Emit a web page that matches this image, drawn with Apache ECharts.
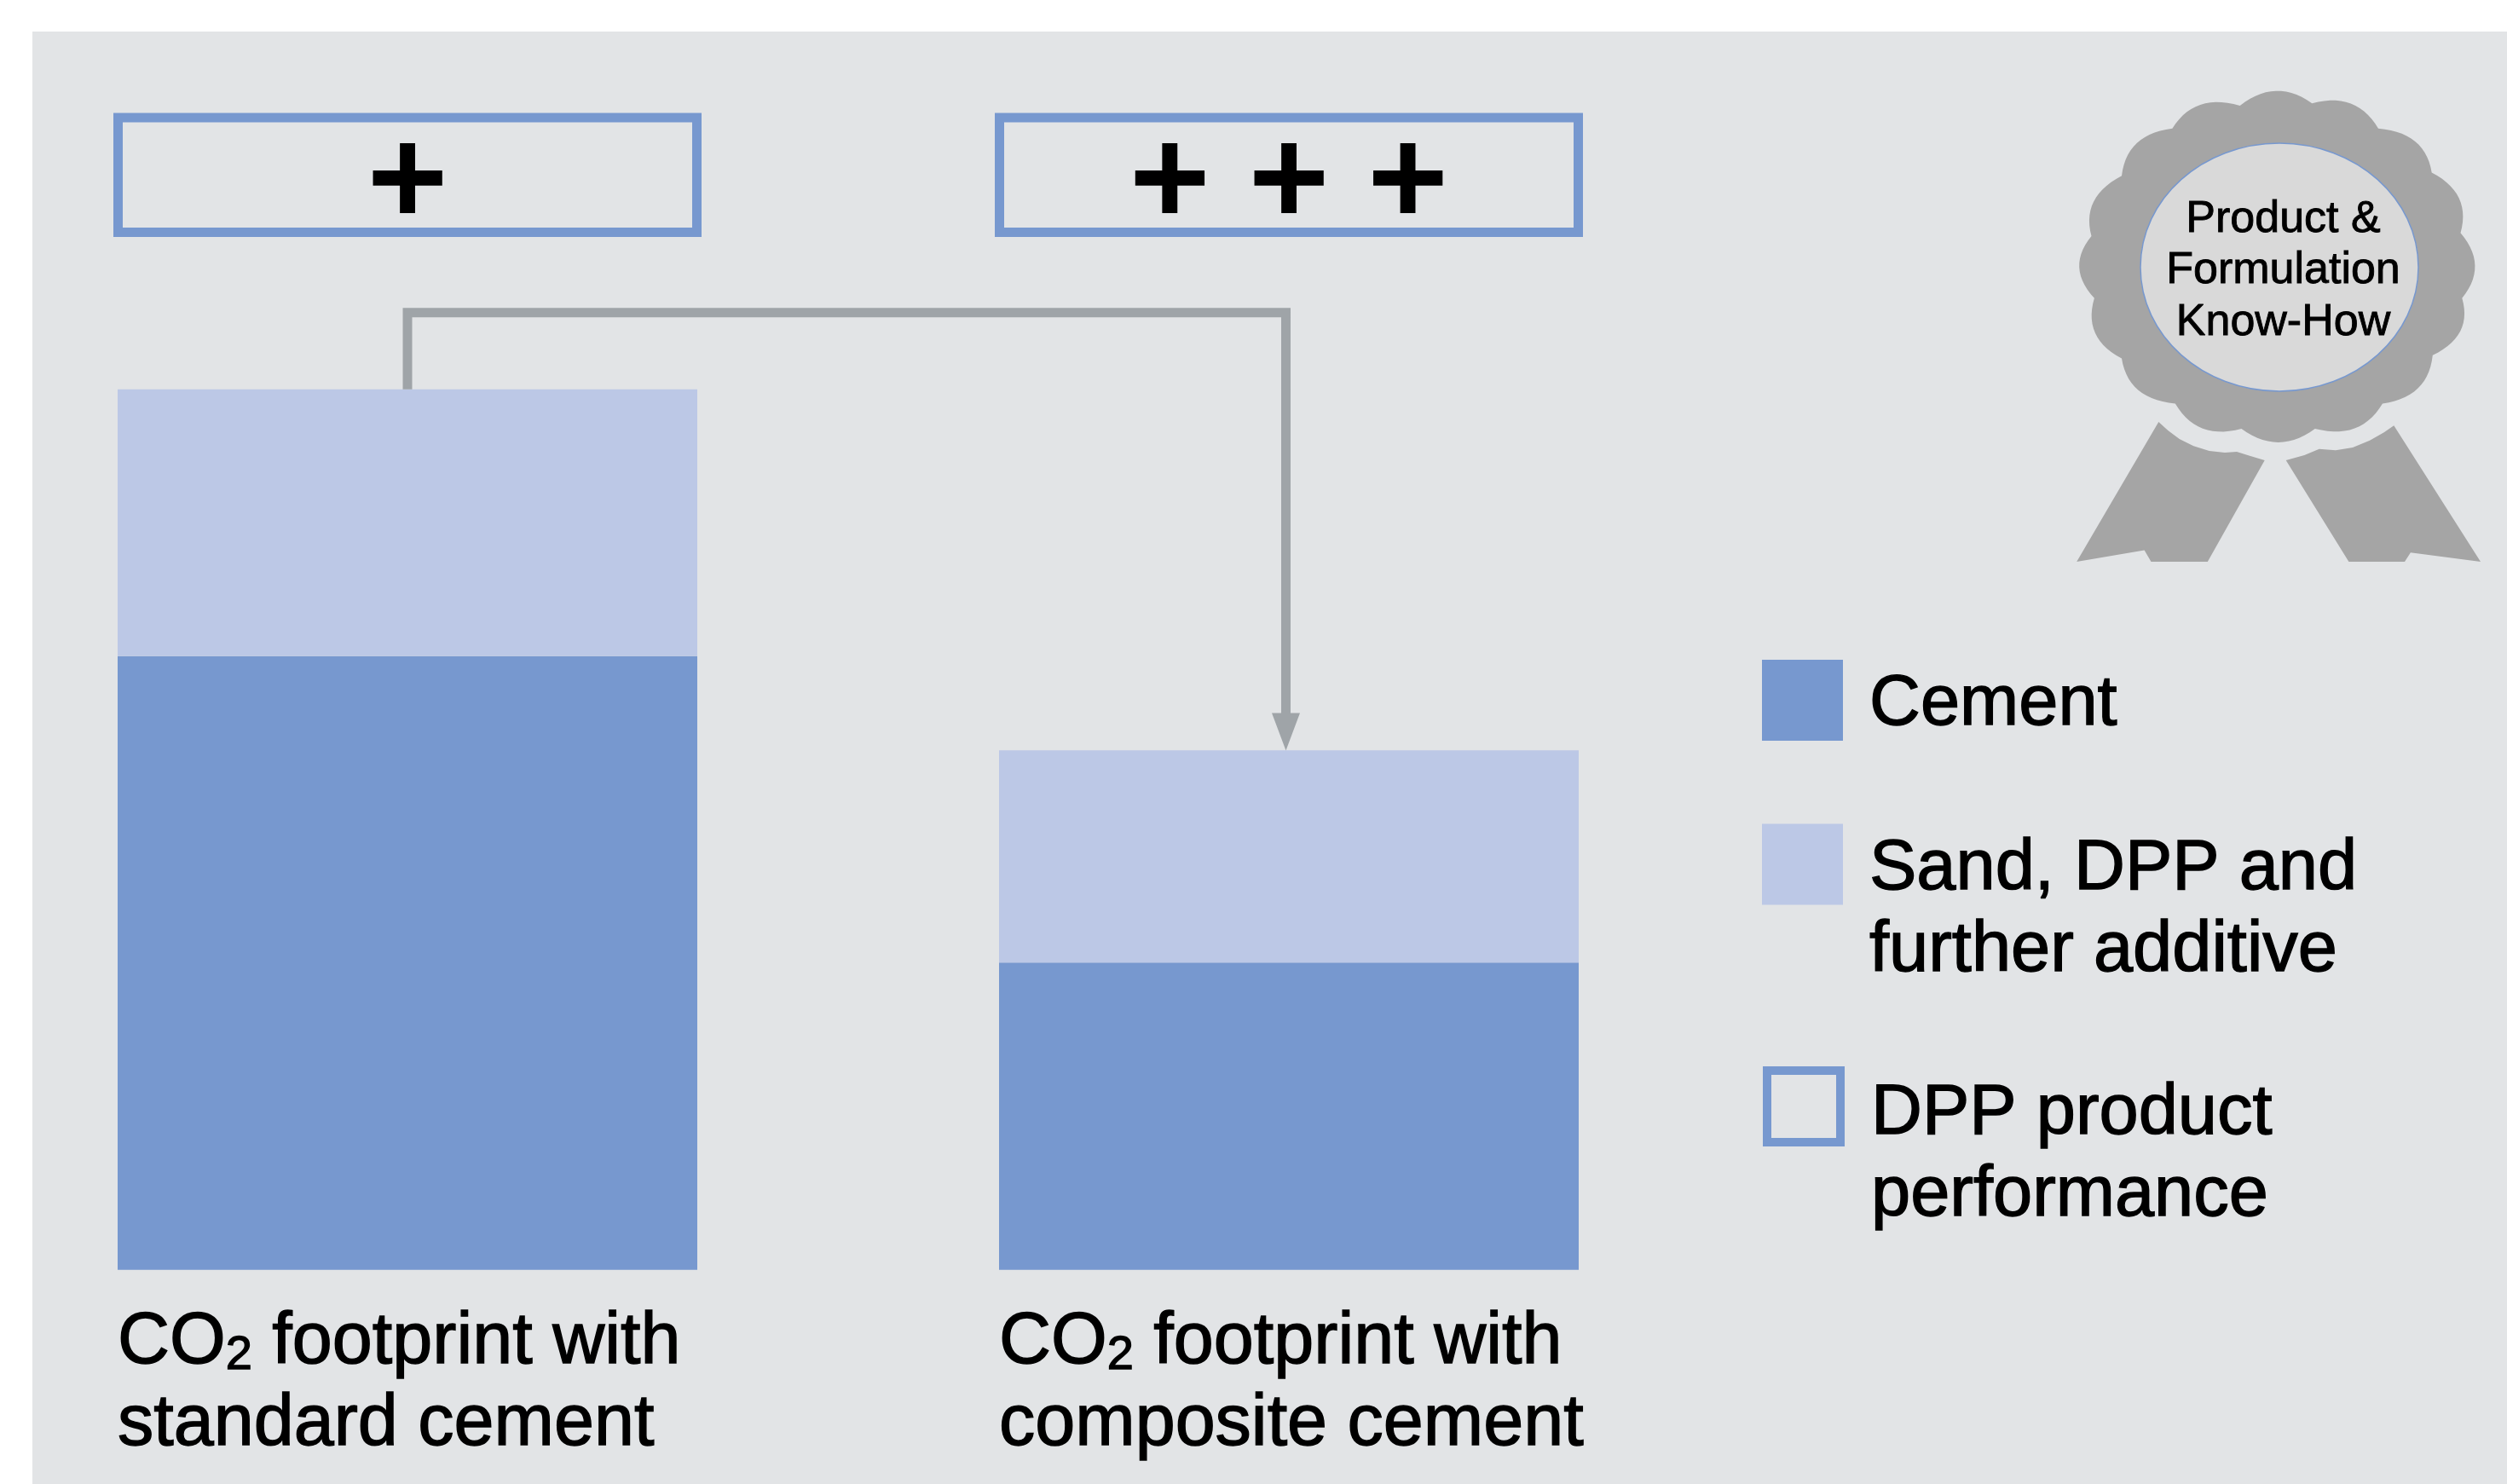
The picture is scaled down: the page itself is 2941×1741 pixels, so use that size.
<!DOCTYPE html>
<html><head><meta charset="utf-8">
<style>html,body{margin:0;padding:0;background:#fff}#c{width:2941px;height:1741px}</style>
<script src="https://cdn.jsdelivr.net/npm/echarts@6/dist/echarts.min.js"></script>
</head><body><div id="c"></div>
<script>
const categories = ['CO2 footprint with\nstandard cement', 'CO2 footprint with\ncomposite cement'];
const cementValues = [69.7, 34.9];
const additiveValues = [30.3, 24.1];
const performanceSlots = [1, 1];
const performanceMarks = ['+', '+ + +'];
const seriesNames = ['Cement', 'Sand, DPP and further additive', 'DPP product performance'];
const legendLabels = ['Cement', 'Sand, DPP and\nfurther additive', 'DPP product\nperformance'];
const connectorPath = [[0, 100], [0, 108.7], [99.66, 108.7], [99.66, 61.1]];
const badgeLines = 'Product &\nFormulation\nKnow-How';

const DARK = '#7798CF', LIGHT = '#BCC8E6', PANEL = '#E2E4E6', GREY = '#9FA4A8', BADGE = '#A5A5A5';
const FONT = '"Liberation Sans", Arial, sans-serif';
const INK = { textBorderColor: '#000', textBorderWidth: 1.4 };

// rosette outline
const valleys = [[2627.7,124],[2712.3,121.3],[2790,150.8],[2852.7,202.5],[2886.5,273.3],[2888.3,349.8],[2853.8,416.8],[2795,473.4],[2715.7,502.9],[2629.5,502.9],[2551.8,473.4],[2489,420.6],[2456.9,349.8],[2453.5,277.1],[2489,206.3],[2548.4,150.8]];
const hub = [2671, 312];
const rosette = [];
valleys.forEach((p, i) => {
  const q = valleys[(i + 1) % valleys.length];
  const mx = (p[0] + q[0]) / 2, my = (p[1] + q[1]) / 2;
  const dx = mx - hub[0], dy = my - hub[1], len = Math.hypot(dx, dy);
  const c = [mx + dx / len * 32, my + dy / len * 32];
  for (let t = 0; t < 1; t += 1 / 14) {
    const u = 1 - t;
    rosette.push([u*u*p[0] + 2*u*t*c[0] + t*t*q[0], u*u*p[1] + 2*u*t*c[1] + t*t*q[1]]);
  }
});
const ribbonLeft = [[2436.2,659],[2515.6,645.6],[2523.5,659],[2589.8,659],[2656.7,540],[2640,535],[2624,530],[2610,531],[2591.7,529],[2573.3,523.3],[2556.7,515],[2543.3,505],[2532.3,495]];
const ribbonRight = [[2681.7,540],[2703.3,534],[2720.7,526.7],[2740,528.3],[2760,525],[2780,516.7],[2796.7,507.3],[2808.3,499.3],[2910,659],[2827.9,648.3],[2821,659],[2755.4,659]];

const legendRich = Object.assign({ fontFamily: FONT, fontSize: 83, lineHeight: 96, color: '#000' }, INK);
const legendBase = {
  orient: 'vertical', left: 2067, padding: 0, selectedMode: false, icon: 'rect',
  itemWidth: 95, itemHeight: 95,
  formatter: n => legendLabels[seriesNames.indexOf(n)].split('\n').map(s => '{a|' + s + '}').join('\n')
};
const legendText = pad => ({ padding: pad, rich: { a: legendRich } });

const chart = echarts.init(document.getElementById('c'), null, { renderer: 'canvas' });
chart.setOption({
  animation: false,
  backgroundColor: '#fff',
  grid: [
    { left: 478, width: 1034, top: 353.4, height: 1136.3, containLabel: false },
    { left: 478, width: 1034, top: 132.5, height: 145.5, containLabel: false }
  ],
  xAxis: [
    { type: 'category', gridIndex: 0, data: categories, boundaryGap: false,
      axisLine: { show: false }, axisTick: { show: false }, splitLine: { show: false },
      axisLabel: { interval: 0, margin: 38, width: 680, overflow: 'none', align: 'center',
        formatter: v => v.split('\n').map(s => s.includes('CO2') ? s.replace('CO2', '{m|CO}{s|2}{m|') + '}' : '{m|' + s + '}').join('\n'),
        rich: {
          m: Object.assign({ fontFamily: FONT, fontSize: 84.5, lineHeight: 96, color: '#000', align: 'left' }, INK),
          s: Object.assign({ fontFamily: FONT, fontSize: 56, lineHeight: 96, height: 66, verticalAlign: 'bottom', color: '#000', align: 'left' }, INK)
        } } },
    { type: 'value', gridIndex: 0, min: 0, max: 100, show: false },
    { type: 'category', gridIndex: 1, data: categories, boundaryGap: false, show: false }
  ],
  yAxis: [
    { type: 'value', gridIndex: 0, min: 0, max: 110, show: false },
    { type: 'value', gridIndex: 1, min: 0, max: 1, show: false }
  ],
  legend: [
    Object.assign({}, legendBase, { top: 774, textStyle: legendText([12, 0, 0, 26]), data: [{ name: seriesNames[0], itemStyle: { color: DARK } }] }),
    Object.assign({}, legendBase, { top: 966.5, textStyle: legendText([108, 0, 0, 26]), data: [{ name: seriesNames[1], itemStyle: { color: LIGHT } }] }),
    Object.assign({}, legendBase, { top: 1251, left: 2068, itemWidth: 86, itemHeight: 84, textStyle: legendText([114, 0, 0, 31]),
      data: [{ name: seriesNames[2], itemStyle: { color: 'transparent', borderColor: DARK, borderWidth: 10 } }] })
  ],
  series: [
    { name: seriesNames[0], type: 'bar', xAxisIndex: 0, yAxisIndex: 0, stack: 'mix', barWidth: 680, clip: false,
      data: cementValues, itemStyle: { color: DARK } },
    { name: seriesNames[1], type: 'bar', xAxisIndex: 0, yAxisIndex: 0, stack: 'mix', barWidth: 680, clip: false,
      data: additiveValues, itemStyle: { color: LIGHT } },
    { name: seriesNames[2], type: 'bar', xAxisIndex: 2, yAxisIndex: 1, barWidth: 690, clip: false,
      data: performanceSlots, itemStyle: { color: 'transparent', borderColor: DARK, borderWidth: 11 },
      label: { show: true, position: 'inside', offset: [0, 13], fontFamily: FONT, fontWeight: 'bold', fontSize: 162, color: '#000',
        formatter: p => performanceMarks[p.dataIndex] } },
    { name: 'connector', type: 'line', xAxisIndex: 1, yAxisIndex: 0, clip: false, z: 3, showSymbol: true,
      lineStyle: { color: GREY, width: 11, join: 'miter', cap: 'butt' }, itemStyle: { color: GREY },
      data: connectorPath.map((v, i) => i === connectorPath.length - 1
        ? { value: v, symbol: 'triangle', symbolSize: [33, 44], symbolRotate: 180 }
        : { value: v, symbol: 'none' }) }
  ],
  graphic: [
    { type: 'rect', z: -10, silent: true, shape: { x: 38, y: 37, width: 2903, height: 1704 }, style: { fill: PANEL } },
    { type: 'polygon', z: 5, silent: true, shape: { points: rosette }, style: { fill: BADGE } },
    { type: 'polygon', z: 5, silent: true, shape: { points: ribbonLeft }, style: { fill: BADGE } },
    { type: 'polygon', z: 5, silent: true, shape: { points: ribbonRight }, style: { fill: BADGE } },
    { type: 'ellipse', z: 6, silent: true, shape: { cx: 2674, cy: 313.5, rx: 163, ry: 145.5 }, style: { fill: '#D9D9D9', stroke: '#7798CF', lineWidth: 1.5 } },
    { type: 'text', z: 7, silent: true, x: 2678.5, y: 318, style: { text: badgeLines, fontFamily: FONT, fontSize: 52, lineHeight: 60.5, fill: '#000', align: 'center', verticalAlign: 'middle', stroke: '#000', lineWidth: 0.9 } }
  ]
});
</script></body></html>
